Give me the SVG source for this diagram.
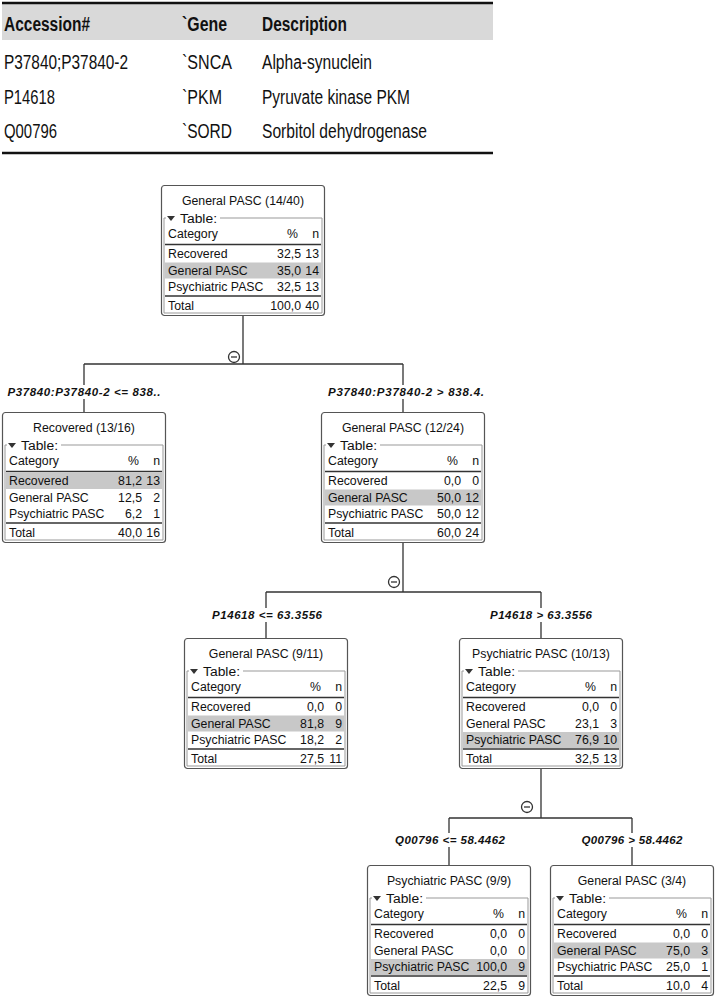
<svg xmlns="http://www.w3.org/2000/svg" width="718" height="999" viewBox="0 0 718 999">
<style>
.tb{font-family:"Liberation Sans",Arial,sans-serif;font-size:19.5px;fill:#111}
.tbh{font-weight:bold}
.box{fill:#fff;stroke:#555;stroke-width:1.2}
.frame{fill:none;stroke:#999;stroke-width:1}
.rule{stroke:#333;stroke-width:1.5}
.hl{fill:#c8c8c8}
.t{font-family:"Liberation Sans",Arial,sans-serif;font-size:12.3px;fill:#111}
.m{text-anchor:middle}
.e{text-anchor:end}
.conn{fill:none;stroke:#333;stroke-width:1.3}
.lbl{font-family:"Liberation Sans",Arial,sans-serif;font-size:11.5px;font-weight:bold;font-style:italic;fill:#111;text-anchor:middle}
</style>
<defs>
<g id="frame">
<rect class="box" x="0.5" y="0.5" width="163" height="130" rx="3"/>
<path class="frame" d="M5 33 H3 V128 H161 V33 H59"/>
<polygon points="6,31 14,31 10,36" fill="#333"/>
<text class="t" x="19" y="37.5" textLength="37" lengthAdjust="spacingAndGlyphs">Table:</text>
<text class="t" x="7" y="52.5">Category</text>
<text class="t e" x="137" y="52.5">%</text>
<text class="t e" x="158" y="52.5">n</text>
<line class="rule" x1="4" y1="59.5" x2="160" y2="59.5"/>
<line class="rule" x1="4" y1="111" x2="160" y2="111"/>
</g>
</defs>

<!-- top table -->
<g id="protein-table">
<rect x="2" y="3" width="491" height="37" fill="#d9d9d9"/>
<line x1="2" y1="3" x2="493" y2="3" stroke="#111" stroke-width="2.5"/>
<line x1="2" y1="153" x2="493" y2="153" stroke="#111" stroke-width="2.5"/>
<text class="tb tbh" x="4" y="31" textLength="86" lengthAdjust="spacingAndGlyphs">Accession#</text>
<text class="tb tbh" x="182" y="31" textLength="45" lengthAdjust="spacingAndGlyphs">`Gene</text>
<text class="tb tbh" x="262" y="31" textLength="85" lengthAdjust="spacingAndGlyphs">Description</text>
<text class="tb" x="4" y="69" textLength="124" lengthAdjust="spacingAndGlyphs">P37840;P37840-2</text>
<text class="tb" x="182" y="69" textLength="50" lengthAdjust="spacingAndGlyphs">`SNCA</text>
<text class="tb" x="262" y="69" textLength="110" lengthAdjust="spacingAndGlyphs">Alpha-synuclein</text>
<text class="tb" x="4" y="104" textLength="51" lengthAdjust="spacingAndGlyphs">P14618</text>
<text class="tb" x="182" y="104" textLength="40" lengthAdjust="spacingAndGlyphs">`PKM</text>
<text class="tb" x="262" y="104" textLength="148" lengthAdjust="spacingAndGlyphs">Pyruvate kinase PKM</text>
<text class="tb" x="4" y="138" textLength="53" lengthAdjust="spacingAndGlyphs">Q00796</text>
<text class="tb" x="182" y="138" textLength="50" lengthAdjust="spacingAndGlyphs">`SORD</text>
<text class="tb" x="262" y="138" textLength="165" lengthAdjust="spacingAndGlyphs">Sorbitol dehydrogenase</text>
</g>

<!-- connectors -->
<g id="connectors">
<path class="conn" d="M243 315 V364 M84 364 H403 M84 364 V385 M84 399 V412 M403 364 V385 M403 399 V412"/>
<path class="conn" d="M403 542 V592 M266 592 H541 M266 592 V608 M266 622 V638 M541 592 V608 M541 622 V638"/>
<path class="conn" d="M541 768 V818 M449 818 H632 M449 818 V833 M449 847 V865 M632 818 V833 M632 847 V865"/>
<g fill="none" stroke="#333" stroke-width="1.3">
<circle cx="234" cy="357" r="5.5"/><line x1="231" y1="357" x2="237" y2="357"/>
<circle cx="394" cy="582" r="5.5"/><line x1="391" y1="582" x2="397" y2="582"/>
<circle cx="527" cy="807" r="5.5"/><line x1="524" y1="807" x2="530" y2="807"/>
</g>
<text class="lbl" x="84" y="396" textLength="153" lengthAdjust="spacing">P37840:P37840-2 &lt;= 838..</text>
<text class="lbl" x="406" y="396" textLength="156" lengthAdjust="spacing">P37840:P37840-2 &gt; 838.4.</text>
<text class="lbl" x="267" y="619" textLength="110" lengthAdjust="spacing">P14618 &lt;= 63.3556</text>
<text class="lbl" x="541" y="619" textLength="102" lengthAdjust="spacing">P14618 &gt; 63.3556</text>
<text class="lbl" x="450" y="844" textLength="110" lengthAdjust="spacing">Q00796 &lt;= 58.4462</text>
<text class="lbl" x="632" y="844" textLength="101" lengthAdjust="spacing">Q00796 &gt; 58.4462</text>
</g>

<!-- nodes -->
<g id="node-root" transform="translate(161,185)">
<use href="#frame"/>
<rect class="hl" x="4" y="77.5" width="156" height="16"/>
<text class="t m" x="82" y="19.5">General PASC (14/40)</text>
<text class="t" x="7" y="73">Recovered</text><text class="t e" x="140" y="73">32,5</text><text class="t e" x="158" y="73">13</text>
<text class="t" x="7" y="89.5">General PASC</text><text class="t e" x="140" y="89.5">35,0</text><text class="t e" x="158" y="89.5">14</text>
<text class="t" x="7" y="106">Psychiatric PASC</text><text class="t e" x="140" y="106">32,5</text><text class="t e" x="158" y="106">13</text>
<text class="t" x="7" y="125">Total</text><text class="t e" x="140" y="125">100,0</text><text class="t e" x="158" y="125">40</text>
</g>

<g id="node-recovered" transform="translate(2,412)">
<use href="#frame"/>
<rect class="hl" x="4" y="61" width="156" height="16"/>
<text class="t m" x="82" y="19.5">Recovered (13/16)</text>
<text class="t" x="7" y="73">Recovered</text><text class="t e" x="140" y="73">81,2</text><text class="t e" x="158" y="73">13</text>
<text class="t" x="7" y="89.5">General PASC</text><text class="t e" x="140" y="89.5">12,5</text><text class="t e" x="158" y="89.5">2</text>
<text class="t" x="7" y="106">Psychiatric PASC</text><text class="t e" x="140" y="106">6,2</text><text class="t e" x="158" y="106">1</text>
<text class="t" x="7" y="125">Total</text><text class="t e" x="140" y="125">40,0</text><text class="t e" x="158" y="125">16</text>
</g>

<g id="node-general-12-24" transform="translate(321,412)">
<use href="#frame"/>
<rect class="hl" x="4" y="77.5" width="156" height="16"/>
<text class="t m" x="82" y="19.5">General PASC (12/24)</text>
<text class="t" x="7" y="73">Recovered</text><text class="t e" x="140" y="73">0,0</text><text class="t e" x="158" y="73">0</text>
<text class="t" x="7" y="89.5">General PASC</text><text class="t e" x="140" y="89.5">50,0</text><text class="t e" x="158" y="89.5">12</text>
<text class="t" x="7" y="106">Psychiatric PASC</text><text class="t e" x="140" y="106">50,0</text><text class="t e" x="158" y="106">12</text>
<text class="t" x="7" y="125">Total</text><text class="t e" x="140" y="125">60,0</text><text class="t e" x="158" y="125">24</text>
</g>

<g id="node-general-9-11" transform="translate(184,638)">
<use href="#frame"/>
<rect class="hl" x="4" y="77.5" width="156" height="16"/>
<text class="t m" x="82" y="19.5">General PASC (9/11)</text>
<text class="t" x="7" y="73">Recovered</text><text class="t e" x="140" y="73">0,0</text><text class="t e" x="158" y="73">0</text>
<text class="t" x="7" y="89.5">General PASC</text><text class="t e" x="140" y="89.5">81,8</text><text class="t e" x="158" y="89.5">9</text>
<text class="t" x="7" y="106">Psychiatric PASC</text><text class="t e" x="140" y="106">18,2</text><text class="t e" x="158" y="106">2</text>
<text class="t" x="7" y="125">Total</text><text class="t e" x="140" y="125">27,5</text><text class="t e" x="158" y="125">11</text>
</g>

<g id="node-psych-10-13" transform="translate(459,638)">
<use href="#frame"/>
<rect class="hl" x="4" y="94" width="156" height="16"/>
<text class="t m" x="82" y="19.5">Psychiatric PASC (10/13)</text>
<text class="t" x="7" y="73">Recovered</text><text class="t e" x="140" y="73">0,0</text><text class="t e" x="158" y="73">0</text>
<text class="t" x="7" y="89.5">General PASC</text><text class="t e" x="140" y="89.5">23,1</text><text class="t e" x="158" y="89.5">3</text>
<text class="t" x="7" y="106">Psychiatric PASC</text><text class="t e" x="140" y="106">76,9</text><text class="t e" x="158" y="106">10</text>
<text class="t" x="7" y="125">Total</text><text class="t e" x="140" y="125">32,5</text><text class="t e" x="158" y="125">13</text>
</g>

<g id="node-psych-9-9" transform="translate(367,865)">
<use href="#frame"/>
<rect class="hl" x="4" y="94" width="156" height="16"/>
<text class="t m" x="82" y="19.5">Psychiatric PASC (9/9)</text>
<text class="t" x="7" y="73">Recovered</text><text class="t e" x="140" y="73">0,0</text><text class="t e" x="158" y="73">0</text>
<text class="t" x="7" y="89.5">General PASC</text><text class="t e" x="140" y="89.5">0,0</text><text class="t e" x="158" y="89.5">0</text>
<text class="t" x="7" y="106">Psychiatric PASC</text><text class="t e" x="140" y="106">100,0</text><text class="t e" x="158" y="106">9</text>
<text class="t" x="7" y="125">Total</text><text class="t e" x="140" y="125">22,5</text><text class="t e" x="158" y="125">9</text>
</g>

<g id="node-general-3-4" transform="translate(550,865)">
<use href="#frame"/>
<rect class="hl" x="4" y="77.5" width="156" height="16"/>
<text class="t m" x="82" y="19.5">General PASC (3/4)</text>
<text class="t" x="7" y="73">Recovered</text><text class="t e" x="140" y="73">0,0</text><text class="t e" x="158" y="73">0</text>
<text class="t" x="7" y="89.5">General PASC</text><text class="t e" x="140" y="89.5">75,0</text><text class="t e" x="158" y="89.5">3</text>
<text class="t" x="7" y="106">Psychiatric PASC</text><text class="t e" x="140" y="106">25,0</text><text class="t e" x="158" y="106">1</text>
<text class="t" x="7" y="125">Total</text><text class="t e" x="140" y="125">10,0</text><text class="t e" x="158" y="125">4</text>
</g>
</svg>
